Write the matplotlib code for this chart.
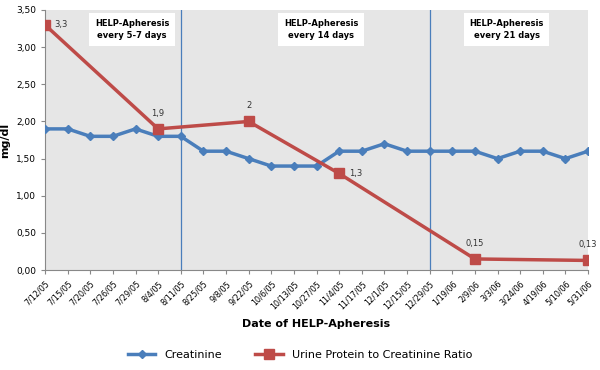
import numpy as np
import matplotlib
matplotlib.use('Agg')
from matplotlib import pyplot as plt

dates = ['7/12/05', '7/15/05', '7/20/05', '7/26/05', '7/29/05', '8/4/05', '8/11/05',
         '8/25/05', '9/8/05', '9/22/05', '10/6/05', '10/13/05', '10/27/05', '11/4/05',
         '11/17/05', '12/1/05', '12/15/05', '12/29/05', '1/19/06', '2/9/06', '3/3/06',
         '3/24/06', '4/19/06', '5/10/06', '5/31/06']
creatinine = [1.9, 1.9, 1.8, 1.8, 1.9, 1.8, 1.8, 1.6, 1.6, 1.5, 1.4, 1.4, 1.4, 1.6,
              1.6, 1.7, 1.6, 1.6, 1.6, 1.6, 1.5, 1.6, 1.6, 1.5, 1.6]
ratio_dates = ['7/12/05', '8/4/05', '9/22/05', '11/4/05', '2/9/06', '5/31/06']
ratio = [3.3, 1.9, 2.0, 1.3, 0.15, 0.13]
ratio_labels = ['3,3', '1,9', '2', '1,3', '0,15', '0,13']
phase_breaks = ['8/11/05', '12/29/05']
phase_text = ['HELP-Apheresis\nevery 5-7 days', 'HELP-Apheresis\nevery 14 days',
              'HELP-Apheresis\nevery 21 days']

blue = '#4a7ebb'
red = '#be4b48'

fig = plt.figure(figsize=(6, 3.7), dpi=100)
ax = fig.add_axes([0.075, 0.27, 0.905, 0.703])
ax.set_facecolor('#e6e6e6')

xs = np.arange(len(dates))
ax.plot(xs, creatinine, color=blue, lw=2.5, marker='D', ms=4.5, label='Creatinine', zorder=3)
rx = [dates.index(d) for d in ratio_dates]
ax.plot(rx, ratio, color=red, lw=2.5, marker='s', ms=6.5, label='Urine Protein to Creatinine Ratio', zorder=4)

# data labels
offsets = [(7, 0), (0, 8), (0, 8), (7, 0), (0, 8), (0, 8)]
for x, y, lab, off in zip(rx, ratio, ratio_labels, offsets):
    ha = 'left' if off[0] else 'center'
    va = 'center' if off[0] else 'bottom'
    ax.annotate(lab, (x, y), xytext=off, textcoords='offset points', ha=ha, va=va, fontsize=6, color='#333333')

for d in phase_breaks:
    ax.axvline(dates.index(d), color=blue, lw=0.9, zorder=2)

for x, t in zip([3.85, 12.2, 20.4], phase_text):
    ax.text(x, 3.24, t, ha='center', va='center', fontsize=6, fontweight='bold', linespacing=1.5,
            bbox=dict(facecolor='white', edgecolor='none', pad=4))

ax.set_xlim(0, len(dates) - 1)
ax.set_ylim(0, 3.5)
ax.set_yticks(np.arange(0, 3.51, 0.5))
ax.set_yticklabels([f'{v:.2f}'.replace('.', ',') for v in np.arange(0, 3.51, 0.5)], fontsize=6.5)
ax.set_xticks(xs)
ax.set_xticklabels(dates, rotation=45, ha='right', rotation_mode='anchor', fontsize=5.8)
ax.tick_params(axis='both', color='#888888', length=3)
for s in ['top', 'right']:
    ax.spines[s].set_visible(False)
for s in ['left', 'bottom']:
    ax.spines[s].set_color('#888888')

ax.set_ylabel('mg/dl', fontsize=8, fontweight='bold')
ax.set_xlabel('Date of HELP-Apheresis', fontsize=8, fontweight='bold', labelpad=6)
fig.legend(loc='lower center', bbox_to_anchor=(0.5, 0.0), ncol=2, frameon=False, fontsize=8,
           handlelength=2.5, columnspacing=3)

fig.savefig('out.png', dpi=100)
